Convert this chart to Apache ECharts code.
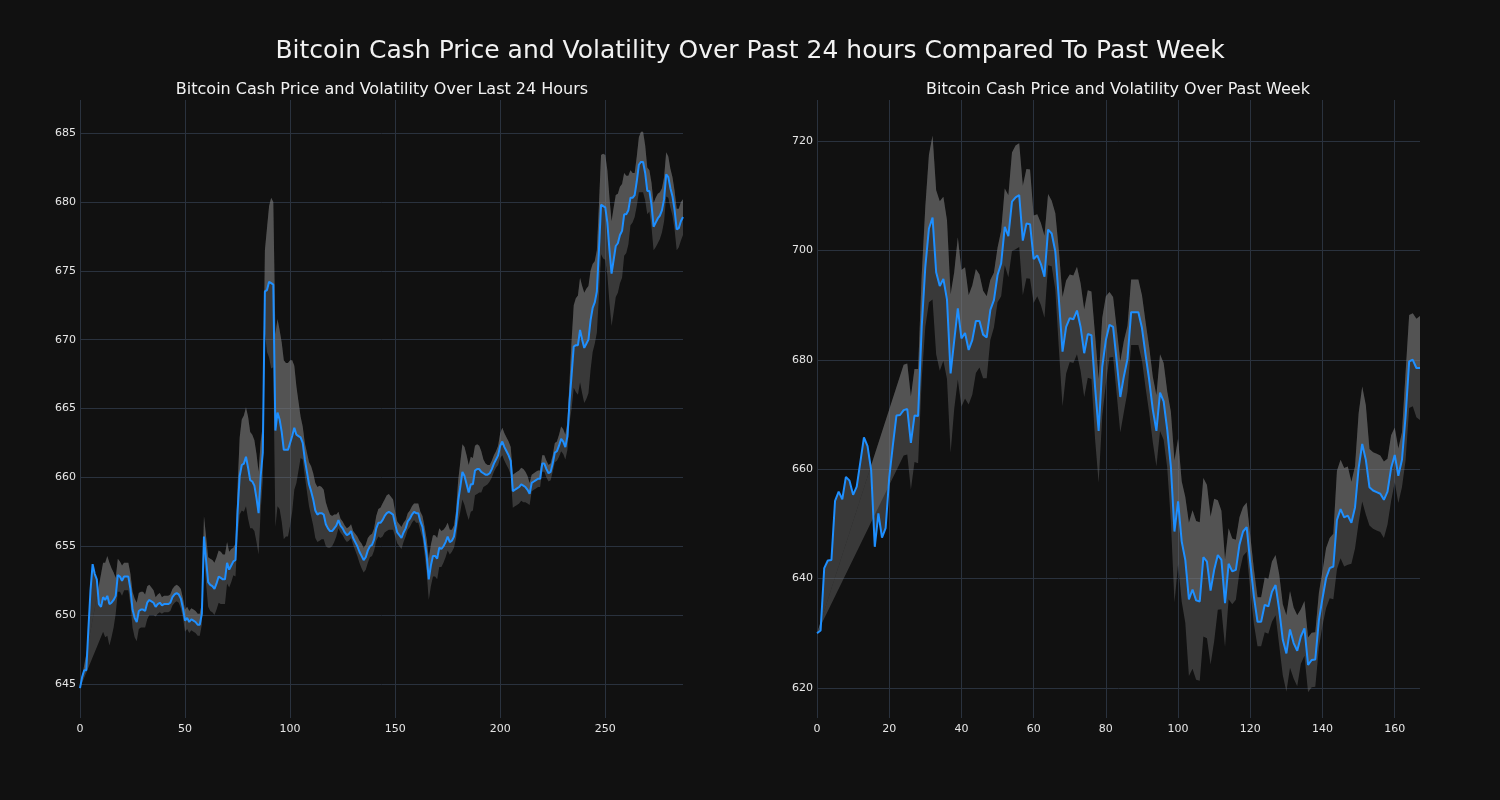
<!DOCTYPE html>
<html><head><meta charset="utf-8">
<script src="https://cdn.jsdelivr.net/npm/echarts@6/dist/echarts.min.js"></script>
<style>html,body{margin:0;padding:0;background:#111111;}#c{width:1500px;height:800px;}</style>
</head><body><div id="c"></div>
<script>
const mainTitle = 'Bitcoin Cash Price and Volatility Over Past 24 hours Compared To Past Week';
const dayTitle = 'Bitcoin Cash Price and Volatility Over Last 24 Hours';
const weekTitle = 'Bitcoin Cash Price and Volatility Over Past Week';

const priceDay = [
644.7,645.5,646.0,646.0,649.0,651.8,653.7,653.0,652.6,650.8,
650.6,651.3,651.1,651.4,650.8,650.9,651.1,651.4,652.9,652.8,
652.5,652.8,652.8,652.8,651.9,650.4,649.8,649.5,650.3,650.4,
650.4,650.3,650.9,651.1,651.0,650.9,650.6,650.8,650.9,650.7,
650.8,650.8,650.8,650.9,651.3,651.5,651.6,651.5,651.2,650.5,
649.6,649.8,649.5,649.7,649.6,649.5,649.3,649.3,650.1,655.7,
654.0,652.4,652.2,652.1,651.9,652.3,652.8,652.7,652.6,652.6,
653.8,653.3,653.6,653.9,654.0,657.5,660.1,660.9,661.0,661.5,
660.7,659.8,659.7,659.4,658.5,657.4,660.1,661.8,673.5,673.6,
674.2,674.1,674.0,663.4,664.7,664.2,663.3,662.0,662.0,662.0,
662.5,663.0,663.6,663.1,663.0,662.9,662.5,661.3,660.4,659.5,
659.0,658.4,657.6,657.3,657.4,657.4,657.3,656.6,656.3,656.1,
656.1,656.3,656.5,656.9,656.5,656.3,656.0,655.8,655.9,656.1,
655.6,655.3,655.0,654.6,654.3,654.0,654.2,654.7,655.0,655.1,
655.5,656.3,656.7,656.7,656.9,657.2,657.4,657.5,657.4,657.3,
656.6,656.0,655.8,655.6,656.0,656.3,656.8,657.0,657.3,657.5,
657.4,657.4,656.8,656.4,655.4,654.3,652.6,653.6,654.3,654.3,
654.1,654.9,654.8,655.0,655.3,655.7,655.3,655.4,655.7,656.6,
658.3,659.3,660.4,660.1,659.5,658.9,659.5,659.5,660.5,660.6,
660.6,660.4,660.3,660.2,660.2,660.3,660.6,661.0,661.3,661.6,
662.3,662.6,662.2,661.9,661.6,661.2,659.0,659.1,659.2,659.3,
659.5,659.4,659.3,659.1,658.8,659.6,659.7,659.8,659.9,659.9,
661.0,661.0,660.6,660.3,660.4,661.0,661.8,661.9,662.3,662.8,
662.6,662.2,663.0,665.5,667.5,669.5,669.6,669.6,670.7,670.0,
669.4,669.7,670.0,671.4,672.3,672.7,673.5,676.5,679.8,679.7,
679.6,678.5,676.5,674.8,675.8,676.8,677.0,677.6,677.9,679.1,
679.1,679.4,680.3,680.3,680.5,681.5,682.7,682.9,682.9,682.1,
680.8,680.8,679.8,678.2,678.5,678.8,679.0,679.4,680.2,682.0,
681.8,681.0,680.4,679.4,678.0,678.1,678.6,678.9
];
const volDay = [
0,null,null,null,null,null,null,null,null,null,
null,2.5,2.7,2.9,3.0,2.5,2.0,1.3,1.2,1.1,
1.1,1.0,1.0,1.0,1.1,1.3,1.4,1.4,1.3,1.3,
1.3,1.2,1.2,1.1,1.0,0.9,0.7,0.7,0.7,0.6,
0.6,0.6,0.6,0.6,0.6,0.6,0.6,0.6,0.7,0.7,
0.8,0.8,0.8,0.8,0.8,0.8,0.8,0.8,0.8,1.5,
1.7,1.8,1.9,1.9,1.9,1.9,1.9,1.9,1.8,1.8,
1.5,1.3,1.2,1.0,1.2,1.8,2.8,3.3,3.5,3.6,
3.7,3.5,3.4,3.3,3.2,3.0,2.5,2.0,3.0,4.5,
5.5,6.2,6.0,7.0,6.8,6.5,6.5,6.5,6.3,6.3,
6.0,5.5,4.5,3.5,2.5,1.5,1.2,1.2,1.4,1.6,
1.8,1.9,2.0,2.0,2.0,1.9,1.8,1.6,1.4,1.2,
1.1,1.0,0.8,0.6,0.5,0.5,0.5,0.5,0.5,0.5,
0.5,0.6,0.7,0.8,0.9,0.9,0.9,0.9,0.8,0.8,
0.8,0.9,1.0,1.1,1.2,1.2,1.3,1.3,1.2,1.1,
0.9,0.8,0.8,0.8,0.7,0.6,0.6,0.6,0.6,0.6,
0.7,0.7,0.7,0.8,1.0,1.2,1.5,1.5,1.5,1.5,
1.5,1.4,1.3,1.2,1.1,1.0,0.9,0.8,0.8,1.0,
1.5,1.8,2.0,2.1,2.1,2.0,2.0,1.9,1.8,1.8,
1.7,1.5,1.0,0.8,0.7,0.6,0.6,0.6,0.6,0.7,
0.9,1.0,1.0,1.0,1.0,1.0,1.2,1.2,1.2,1.2,
1.2,1.2,1.1,1.0,0.8,0.6,0.6,0.6,0.6,0.6,
0.6,0.6,0.6,0.6,0.6,0.6,0.7,0.7,0.8,0.9,
0.9,0.9,1.0,1.5,2.5,3.0,3.4,3.6,3.8,3.9,
4.0,4.0,3.9,3.6,3.2,3.0,3.0,3.3,3.6,3.8,
3.8,3.8,3.8,3.8,3.8,3.7,3.6,3.5,3.4,3.0,
2.8,2.5,2.0,1.8,1.6,1.8,2.0,2.2,2.2,2.0,
1.7,1.5,1.6,1.7,1.8,1.8,1.7,1.6,1.6,1.6,
1.5,1.4,1.4,1.4,1.5,1.4,1.4,1.3
];
const priceWeek = [
630.0,630.5,641.9,643.3,643.4,654.2,655.9,654.5,658.6,657.9,
655.3,656.8,661.3,665.8,664.2,659.8,645.8,651.9,647.5,649.2,
658.4,664.3,669.8,669.9,670.8,671.0,664.8,669.8,669.7,686.0,
697.0,704.0,706.0,696.0,693.5,694.8,691.0,677.5,683.5,689.4,
683.9,684.9,681.8,683.6,687.1,687.1,684.6,684.1,689.1,690.9,
695.5,697.6,704.3,702.6,708.9,709.7,710.1,701.8,704.9,704.8,
698.4,699.1,697.5,695.2,703.8,703.1,699.8,690.9,681.5,686.0,
687.6,687.4,689.0,686.0,681.2,684.7,684.5,675.1,667.0,678.7,
683.6,686.4,686.0,679.7,673.2,677.0,680.2,688.7,688.7,688.7,
685.8,680.9,676.3,670.9,667.0,674.0,672.4,667.2,660.5,648.6,
654.1,646.8,643.4,636.2,638.0,636.0,635.8,643.9,643.1,637.8,
641.6,644.3,643.4,635.5,642.7,641.3,641.6,646.2,648.6,649.4,
642.8,636.7,632.1,632.1,635.2,634.9,637.6,638.8,634.3,628.8,
626.3,630.7,628.2,626.8,629.4,630.9,624.2,625.1,625.2,632.4,
636.4,640.1,641.9,642.2,650.7,652.7,651.2,651.5,650.2,653.0,
660.2,664.6,661.7,656.7,656.1,655.8,655.5,654.4,655.9,660.2,
662.6,658.8,661.7,669.6,679.7,680.0,678.5,678.5
];
const volWeek = [
0,null,null,null,null,null,null,null,null,null,
null,null,null,null,null,null,null,null,null,null,
null,null,null,null,8.3,8.3,8.5,8.5,8.6,9.5,
11,13.5,15,15,15.5,15,14.5,14.5,12.5,13,
12.5,12,10,10,9.5,8.5,8,7.5,5.5,5,
5,6,7,7.5,9,9.5,9.5,10,10,10,
8,7.5,7.5,7.5,6.5,6,7,9,10,8.5,
8,8,8,8,8,8,8,9.5,9.5,9,
8,6,5.5,6,6.5,6.5,6,6,6,6,
6,6,6,6,6.5,7,7,7,10,13,
11.5,11,11.5,14,14.5,14.5,14.5,14.5,14,13.5,
13,10,9,8,6.5,6,5.5,5,4.5,4.5,
5,5,4.5,4.5,5,5,5.5,5.5,6.5,6.5,
7,7,6.5,6.5,5,5,5,5,5,5,
5,5.5,5.5,6,9,9,9,9,7.5,7.5,
10,10.5,10,7,7,7,7,7,6,6,
5,5,5,8,8.5,8.5,9,9.5
];
const dayXTicks = [0,50,100,150,200,250];
const dayYTicks = [645,650,655,660,665,670,675,680,685];
const weekXTicks = [0,20,40,60,80,100,120,140,160];
const weekYTicks = [620,640,660,680,700,720];

const GRID = '#2a323e';
const TXT = '#e6e6e6';
const FONT = 'DejaVu Sans';

function bandSeries(idx, price, vol, overlay) {
  return {
    type: 'custom', xAxisIndex: idx, yAxisIndex: idx, silent: true, z: 1,
    data: [0],
    renderItem: function (params, api) {
      const top = [], bottom = [];
      for (let i = 0; i < price.length; i++) {
        if (vol[i] != null) top.push(api.coord([i, price[i] + vol[i]]));
      }
      for (let i = price.length - 1; i >= 0; i--) {
        if (overlay) bottom.push(api.coord([i, price[i]]));
        else if (vol[i] != null) bottom.push(api.coord([i, price[i] - vol[i]]));
      }
      return { type: 'polygon', shape: { points: top.concat(bottom) },
               style: { fill: 'rgba(128,128,128,0.37)', stroke: null } };
    }
  };
}
function lineSeries(idx, price) {
  return { type: 'line', xAxisIndex: idx, yAxisIndex: idx, z: 3, silent: true,
    data: price.map((v, i) => [i, v]), showSymbol: false, symbol: 'none',
    lineStyle: { color: '#1e8fff', width: 2 } };
}
function xAxis(idx, max, ticks) {
  return { type: 'value', gridIndex: idx, min: 0, max: max,
    axisLine: { show: false },
    axisTick: { show: false, customValues: ticks },
    axisLabel: { customValues: ticks, color: TXT, fontFamily: FONT, fontSize: 11, margin: 6 },
    splitLine: { show: true, lineStyle: { color: GRID, width: 1 } } };
}
function yAxis(idx, min, max, ticks) {
  return { type: 'value', gridIndex: idx, min: min, max: max,
    axisLine: { show: false },
    axisTick: { show: false, customValues: ticks },
    axisLabel: { customValues: ticks, color: TXT, fontFamily: FONT, fontSize: 11, margin: 4 },
    splitLine: { show: true, lineStyle: { color: GRID, width: 1 } } };
}

const chart = echarts.init(document.getElementById('c'), null, { renderer: 'canvas' });
chart.setOption({
  backgroundColor: '#111111',
  animation: false,
  title: [
    { text: mainTitle, left: 745, top: 34, textAlign: 'center',
      textStyle: { color: '#f2f2f2', fontFamily: FONT, fontSize: 25, fontWeight: 'normal' } },
    { text: dayTitle, left: 377, top: 77, textAlign: 'center',
      textStyle: { color: '#f2f2f2', fontFamily: FONT, fontSize: 16, fontWeight: 'normal' } },
    { text: weekTitle, left: 1113, top: 77, textAlign: 'center',
      textStyle: { color: '#f2f2f2', fontFamily: FONT, fontSize: 16, fontWeight: 'normal' } }
  ],
  grid: [
    { left: 80, top: 100, width: 603, height: 618 },
    { left: 817, top: 100, width: 603, height: 618 }
  ],
  xAxis: [ xAxis(0, 287, dayXTicks), xAxis(1, 167, weekXTicks) ],
  yAxis: [ yAxis(0, 642.53, 687.4, dayYTicks), yAxis(1, 614.5, 727.5, weekYTicks) ],
  series: [
    bandSeries(0, priceDay, volDay, false),
    bandSeries(0, priceDay, volDay, true),
    lineSeries(0, priceDay),
    bandSeries(1, priceWeek, volWeek, false),
    bandSeries(1, priceWeek, volWeek, true),
    lineSeries(1, priceWeek)
  ]
});
</script>
</body></html>
